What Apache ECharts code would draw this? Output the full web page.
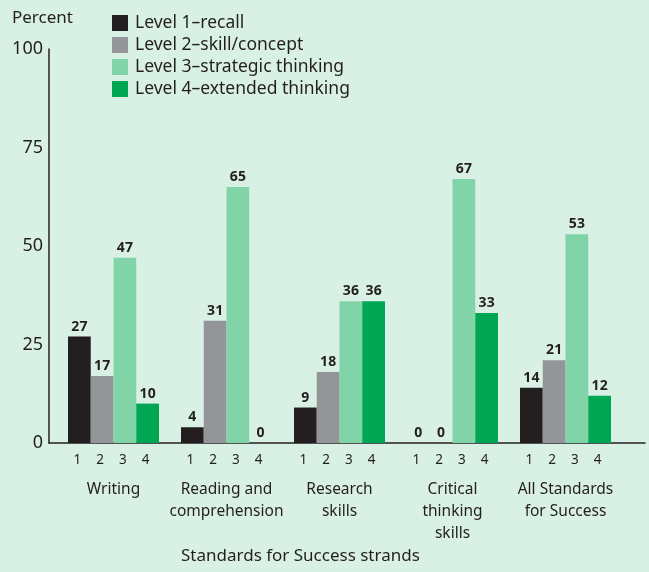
<!DOCTYPE html>
<html>
<head>
<meta charset="utf-8">
<script src="https://cdn.jsdelivr.net/npm/echarts@6/dist/echarts.min.js"></script>
<style>
html,body{margin:0;padding:0;background:#d9f1e5;}
#chart{width:649px;height:572px;}
</style>
</head>
<body>
<div id="chart"></div>
<script>
const categories = ['Writing', 'Reading and\ncomprehension', 'Research\nskills', 'Critical\nthinking\nskills', 'All Standards\nfor Success'];
const levelNames = ['Level 1\u2013recall', 'Level 2\u2013skill/concept', 'Level 3\u2013strategic thinking', 'Level 4\u2013extended thinking'];
const levelNumbers = ['1', '2', '3', '4'];
const level1 = [27, 4, 9, 0, 14];
const level2 = [17, 31, 18, 0, 21];
const level3 = [47, 65, 36, 67, 53];
const level4 = [10, 0, 36, 33, 12];
const yTicks = [0, 25, 50, 75, 100];

const values = [level1, level2, level3, level4];
const colors = ['#231f20', '#939598', '#80d4a8', '#00a651'];
const FONT = '"Noto Sans", sans-serif';
const TXT = '#231f20';

const mainSeries = values.map((v, i) => ({
  name: levelNames[i],
  type: 'bar',
  xAxisIndex: 1,
  yAxisIndex: 1,
  data: v,
  barWidth: 22.75,
  barGap: 0,
  itemStyle: { color: colors[i] },
  label: {
    show: true, position: 'top', distance: 3,
    fontFamily: FONT, fontSize: 14, fontWeight: 'bold', color: TXT
  }
}));
const numSeries = levelNumbers.map((n, i) => ({
  name: 'n' + n,
  type: 'bar',
  xAxisIndex: 2,
  yAxisIndex: 1,
  silent: true,
  data: categories.map(() => 0),
  barWidth: 22.75,
  barGap: 0,
  itemStyle: { color: 'rgba(0,0,0,0)' },
  label: {
    show: true, position: 'bottom', distance: 10, offset: [-2, 0],
    formatter: () => n,
    fontFamily: FONT, fontSize: 13.5, color: TXT
  }
}));

const chart = echarts.init(document.getElementById('chart'));
chart.setOption({
  backgroundColor: '#d9f1e5',
  animation: false,
  title: [
    { text: 'Percent', left: 12, top: 10, padding: 0, textStyle: { fontFamily: FONT, fontSize: 17, fontWeight: 'normal', color: TXT } },
    { text: 'Standards for Success strands', left: 181, top: 548, padding: 0, textStyle: { fontFamily: FONT, fontSize: 17, fontWeight: 'normal', color: TXT } }
  ],
  legend: {
    data: levelNames, orient: 'vertical', left: 112, top: 14, padding: 0,
    itemWidth: 16, itemHeight: 16, itemGap: 4,
    icon: 'rect',
    textStyle: { fontFamily: FONT, fontSize: 17.5, color: TXT, padding: [0, 0, 0, 2] }
  },
  grid: [
    { left: 49, right: 4, top: 49, bottom: 129 },
    { left: 57, width: 565, top: 49, bottom: 129 }
  ],
  xAxis: [
    { gridIndex: 0, type: 'value', min: 0, max: 1, axisLine: { show: true, lineStyle: { color: TXT, width: 1.5 } }, axisTick: { show: false }, axisLabel: { show: false }, splitLine: { show: false } },
    { gridIndex: 1, type: 'category', data: categories, axisLine: { show: false }, axisTick: { show: false },
      axisLabel: { margin: 36, fontFamily: FONT, fontSize: 15.5, lineHeight: 22, color: TXT, interval: 0 } },
    { gridIndex: 1, type: 'category', data: categories, show: false }
  ],
  yAxis: [
    { gridIndex: 0, type: 'value', min: yTicks[0], max: yTicks[yTicks.length - 1], interval: 25,
      axisLine: { show: true, lineStyle: { color: TXT, width: 1.5 } }, axisTick: { show: false },
      axisLabel: { margin: 6, fontFamily: FONT, fontSize: 18, color: TXT }, splitLine: { show: false } },
    { gridIndex: 1, type: 'value', min: 0, max: 100, show: false }
  ],
  series: mainSeries.concat(numSeries)
});
</script>
</body>
</html>
